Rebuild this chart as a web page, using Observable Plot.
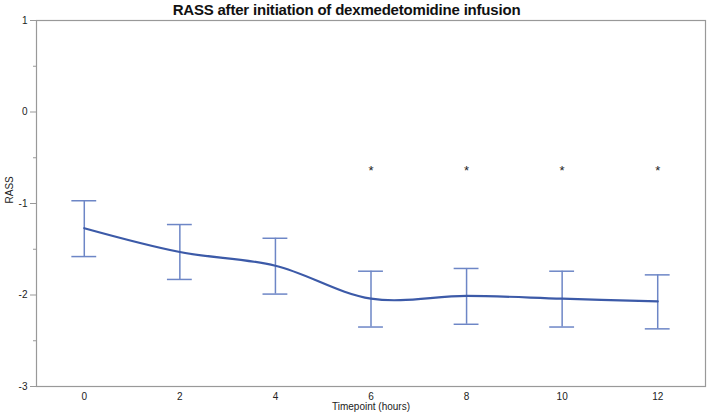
<!DOCTYPE html>
<html>
<head>
<meta charset="utf-8">
<script src="https://cdn.jsdelivr.net/npm/d3@7"></script>
<script src="https://cdn.jsdelivr.net/npm/@observablehq/plot@0.6"></script>
<style>
  body { margin: 0; background: white; font-family: "Liberation Sans", Arial, sans-serif; }
  #wrap { position: relative; width: 709px; height: 416px; }
  #title { position: absolute; top: 1px; left: -8px; width: 709px; text-align: center; font-weight: bold; font-size: 15px; color: #111; letter-spacing: -0.2px; }
</style>
</head>
<body>
<div id="wrap">
  <div id="title">RASS after initiation of dexmedetomidine infusion</div>
  <div id="chart"></div>
</div>
<script>
const timepoints = [0, 2, 4, 6, 8, 10, 12];
const meanRASS  = [-1.27, -1.53, -1.68, -2.04, -2.01, -2.04, -2.07];
const upperRASS = [-0.97, -1.23, -1.38, -1.74, -1.71, -1.74, -1.78];
const lowerRASS = [-1.58, -1.83, -1.99, -2.35, -2.32, -2.35, -2.37];
const significant = [6, 8, 10, 12];
const starLevel = -0.62;
const yMajorTicks = [-3, -2, -1, 0, 1];
const yMinorTicks = [-2.5, -1.5, -0.5, 0.5];
const xTicks = [0, 2, 4, 6, 8, 10, 12];

const data = timepoints.map((t, i) => ({t, mean: meanRASS[i], hi: upperRASS[i], lo: lowerRASS[i]}));
const stars = significant.map(t => ({t, y: starLevel}));
const capHalf = 0.26;
const barColor = "#6d86c6";
const lineColor = "#3c5aa8";

const chart = Plot.plot({
  width: 709,
  height: 416,
  marginTop: 20,
  marginBottom: 30,
  marginLeft: 36,
  marginRight: 4,
  style: {fontFamily: "Liberation Sans, Arial, sans-serif", fontSize: "10px", color: "#222"},
  x: {domain: [-1, 13]},
  y: {domain: [-3, 1]},
  marks: [
    Plot.frame({stroke: "#999", strokeWidth: 1.2}),
    Plot.axisX({ticks: xTicks, tickSize: 0, tickPadding: 6, tickFormat: d => String(d), label: null}),
    Plot.axisY({ticks: yMajorTicks, tickSize: 6, tickPadding: 3, stroke: "#999", tickFormat: d => String(d), label: null}),
    Plot.axisY({ticks: yMinorTicks, tickSize: 3, text: null, stroke: "#999", label: null}),
    Plot.text(["Timepoint (hours)"], {frameAnchor: "bottom", dy: 23, fontSize: 10, fill: "#222"}),
    Plot.text(["RASS"], {frameAnchor: "left", dx: -27, rotate: -90, fontSize: 10, fill: "#222"}),
    Plot.ruleX(data, {x: "t", y1: "lo", y2: "hi", stroke: barColor, strokeWidth: 1.5}),
    Plot.ruleY(data, {y: "hi", x1: d => d.t - capHalf, x2: d => d.t + capHalf, stroke: barColor, strokeWidth: 1.5}),
    Plot.ruleY(data, {y: "lo", x1: d => d.t - capHalf, x2: d => d.t + capHalf, stroke: barColor, strokeWidth: 1.5}),
    Plot.line(data, {x: "t", y: "mean", curve: "catmull-rom", stroke: lineColor, strokeWidth: 2.2}),
    Plot.text(stars, {x: "t", y: "y", text: () => "*", fontSize: 13, fill: "#222", dy: 2})
  ]
});
document.getElementById("chart").appendChild(chart);
</script>
</body>
</html>
